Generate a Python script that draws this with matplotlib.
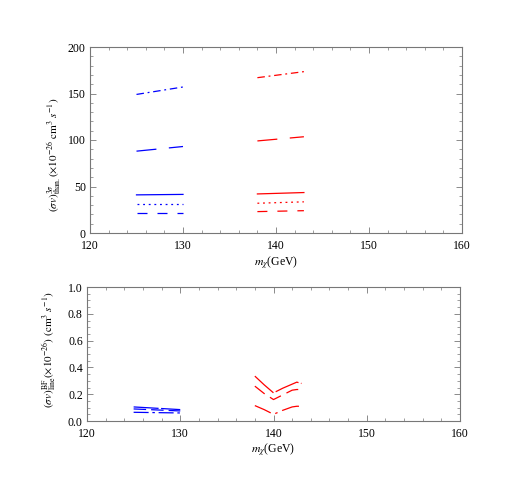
import matplotlib
matplotlib.use("Agg")
import matplotlib.pyplot as plt
from matplotlib.ticker import MultipleLocator, FormatStrFormatter

plt.rcParams['font.family'] = ['Liberation Serif', 'DejaVu Serif']
plt.rcParams['mathtext.fontset'] = 'stix'

# ---- top panel data ----
x_blue = [125, 130]
x_red = [138, 143]
top_blue_dashdot = [149, 157]
top_blue_longdash = [88, 93]
top_blue_solid = [41, 41.5]
top_blue_dotted = [31, 31]
top_blue_dashed = [22, 22]
top_red_dashdot = [167, 173.5]
top_red_longdash = [99, 103.5]
top_red_solid = [42, 43.5]
top_red_dotted = [32, 33.5]
top_red_dashed = [23, 24]

# ---- bottom panel data ----
bx_blue = [125, 130]
bot_blue_1 = [0.105, 0.085]
bot_blue_2 = [0.090, 0.075]
bot_blue_3 = [0.065, 0.060]
bx_red = [138, 139, 140, 141, 142, 142.5, 143]
bot_red_1 = [0.335, 0.27, 0.21, 0.245, 0.275, 0.29, 0.28]
bot_red_2 = [0.26, 0.205, 0.16, 0.195, 0.23, 0.235, 0.235]
bot_red_3 = [0.115, 0.085, 0.05, 0.08, 0.105, 0.11, 0.11]

W, H = 519, 492
fig = plt.figure(figsize=(W / 100, H / 100), dpi=100)

ax1 = fig.add_axes([90 / W, 1 - 233 / H, (462 - 90) / W, (233 - 47) / H])
ax2 = fig.add_axes([87 / W, 1 - 421 / H, (460 - 87) / W, (421 - 287) / H])

lw = 0.9
ls_dashdot = (0, (6, 3, 1.5, 3))
ls_long = (0, (16, 10))
ls_dot = (0, (1.5, 3))
ls_dash = (0, (8, 8))

ax1.plot(x_blue, top_blue_dashdot, color='blue', lw=lw, ls=ls_dashdot)
ax1.plot(x_blue, top_blue_longdash, color='blue', lw=lw, ls=ls_long)
ax1.plot(x_blue, top_blue_solid, color='blue', lw=lw, ls='-')
ax1.plot(x_blue, top_blue_dotted, color='blue', lw=lw, ls=ls_dot)
ax1.plot(x_blue, top_blue_dashed, color='blue', lw=lw, ls=ls_dash)
ax1.plot(x_red, top_red_dashdot, color='red', lw=lw, ls=ls_dashdot)
ax1.plot(x_red, top_red_longdash, color='red', lw=lw, ls=ls_long)
ax1.plot(x_red, top_red_solid, color='red', lw=lw, ls='-')
ax1.plot(x_red, top_red_dotted, color='red', lw=lw, ls=ls_dot)
ax1.plot(x_red, top_red_dashed, color='red', lw=lw, ls=ls_dash)

ax2.plot(bx_blue, bot_blue_1, color='blue', lw=lw, ls=(0, (20, 2)))
ax2.plot(bx_blue, bot_blue_2, color='blue', lw=lw, ls=(0, (10, 4)))
ax2.plot(bx_blue, bot_blue_3, color='blue', lw=lw, ls=(0, (12, 3, 2, 3)))
ax2.plot(bx_red, bot_red_1, color='red', lw=lw, ls=(0, (20, 2)))
ax2.plot(bx_red, bot_red_2, color='red', lw=lw, ls=(0, (10, 5)))
ax2.plot(bx_red, bot_red_3, color='red', lw=lw, ls=(0, (14, 4, 2, 4)))

ax1.set_xlim(120, 160)
ax1.set_ylim(0, 200)
ax1.xaxis.set_major_locator(MultipleLocator(10))
ax1.xaxis.set_minor_locator(MultipleLocator(2))
ax1.yaxis.set_major_locator(MultipleLocator(50))
ax1.yaxis.set_minor_locator(MultipleLocator(10))

ax2.set_xlim(120, 160)
ax2.set_ylim(0, 1.0)
ax2.xaxis.set_major_locator(MultipleLocator(10))
ax2.xaxis.set_minor_locator(MultipleLocator(2))
ax2.yaxis.set_major_locator(MultipleLocator(0.2))
ax2.yaxis.set_minor_locator(MultipleLocator(0.05))
ax2.yaxis.set_major_formatter(FormatStrFormatter('%.1f'))

for ax in (ax1, ax2):
    for s in ax.spines.values():
        s.set_color('#777777')
        s.set_linewidth(0.8)
    ax.tick_params(which='both', direction='in', top=True, right=True,
                   color='#777777', labelsize=8.5)
    ax.tick_params(axis='x', pad=5)
    ax.tick_params(axis='y', pad=3)
    ax.tick_params(which='major', length=4, width=0.6)
    ax.tick_params(which='minor', length=2, width=0.5)
    ax.set_xlabel(r'$m_\chi$(GeV)', fontsize=8.5)

ax1.xaxis.set_label_coords(0.5, -0.113)
ax2.xaxis.set_label_coords(0.5, -0.149)

ax1.set_ylabel(r'$(\sigma v)^{3\sigma}_{\rm than.}(\times 10^{-26}\ {\rm cm}^3\ s^{-1})$',
               fontsize=8)
ax2.set_ylabel(r'$(\sigma v)^{\rm BF}_{\rm line}(\times 10^{-26})\ ({\rm cm}^3\ s^{-1})$',
               fontsize=8)
ax1.yaxis.set_label_coords(-0.073, 0.42)
ax2.yaxis.set_label_coords(-0.078, 0.53)

fig.savefig('out.png', dpi=100)
